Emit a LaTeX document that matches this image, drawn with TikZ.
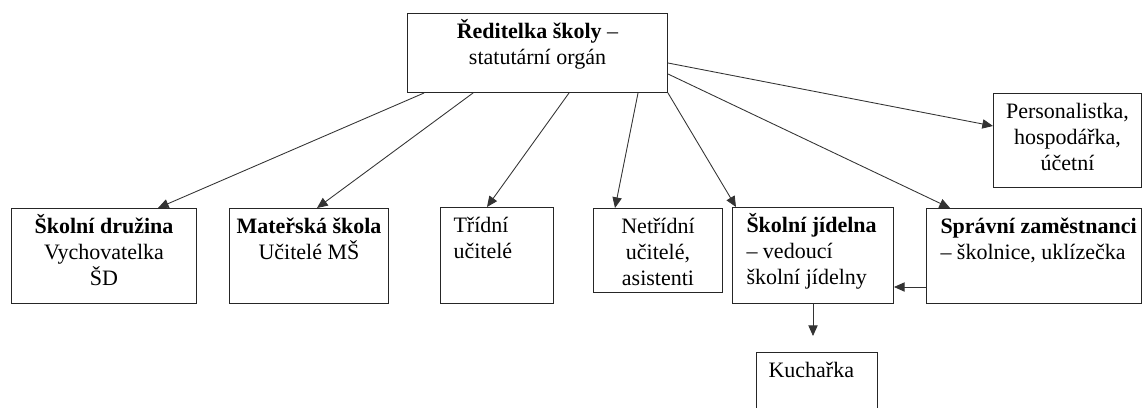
\documentclass[tikz,border=0pt]{standalone}
\usepackage{fontspec}
\setmainfont{Liberation Serif}
\usetikzlibrary{arrows.meta, calc}
\newdimen\px \px=0.75pt
\newcommand{\OrgCell}[4][\centering]{%
	\parbox[t][#3\px][t]{#2\px}{\prevdepth=0pt\vspace*{-1pt}#1#4}}

\begin{document}
\begin{tikzpicture}[x=0.75pt, y=-0.75pt, line cap=round,
	cell/.style={draw=black!85, line width=0.75pt, inner sep=0pt, anchor=north west,
		font={\fontsize{16.5}{19.5}\selectfont}},
	conn/.style={draw=black!80, line width=0.65pt, -{Triangle[length=8pt, width=7pt]}}]

	\useasboundingbox (0,0) rectangle (1142,407);

	\node[cell] (reditelka) at (407,13) {\OrgCell{260}{79}{\textbf{Ředitelka školy} –\\ statutární orgán}};
	\node[cell] (personal) at (993,93) {\OrgCell{148}{94}{Personalistka,\\ hospodářka,\\ účetní}};

	\node[cell] (druzina) at (11,208) {\OrgCell{185}{95}{\textbf{Školní družina}\\ Vychovatelka\\ ŠD}};
	\node[cell] (materska) at (229,208) {\OrgCell{159}{95}{\textbf{Mateřská škola}\\ Učitelé MŠ}};
	\node[cell] (tridni) at (440,207) {\OrgCell[\raggedright\leftskip=13\px]{113}{96}{Třídní\\ učitelé}};
	\node[cell] (netridni) at (593,208) {\OrgCell{129}{84}{Netřídní\\ učitelé,\\ asistenti}};
	\node[cell] (jidelna) at (732,207) {\OrgCell[\raggedright\leftskip=14\px]{161}{96}{\textbf{Školní jídelna}\\ – vedoucí\\ školní jídelny}};
	\node[cell] (spravni) at (926,208) {\OrgCell[\raggedright\leftskip=14\px]{215}{95}{\textbf{Správní zaměstnanci}\\ – školnice, uklízečka}};
	\node[cell] (kucharka) at (756,352) {\OrgCell[\raggedright\leftskip=12\px]{121}{70}{Kuchařka}};

	% from the head of school
	\draw[conn] ($ (reditelka.south west)+(17,0) $) -- ($ (druzina.north west)+(147,0) $);
	\draw[conn] ($ (reditelka.south west)+(66,0) $) -- ($ (materska.north west)+(88,0) $);
	\draw[conn] ($ (reditelka.south west)+(162,0) $) -- ($ (tridni.north west)+(47,0) $);
	\draw[conn] ($ (reditelka.south west)+(231,0) $) -- ($ (netridni.north west)+(22,0) $);
	\draw[conn] (reditelka.south east) -- ($ (jidelna.north west)+(4,0) $);
	\draw[conn] ($ (reditelka.south east)+(0,-19) $) -- ($ (spravni.north west)+(24,0) $);
	\draw[conn] ($ (reditelka.south east)+(0,-30) $) -- ($ (personal.north west)+(0,33) $);

	\draw[conn] ($ (spravni.south west)+(0,-17) $) -- ($ (jidelna.south east)+(0,-17) $);
	\coordinate (kuchTip) at ($ (jidelna.south west)+(81,32) $);
	\draw[conn] ($ (jidelna.south west)+(81,0) $) -- (kuchTip);

\end{tikzpicture}
\end{document}
